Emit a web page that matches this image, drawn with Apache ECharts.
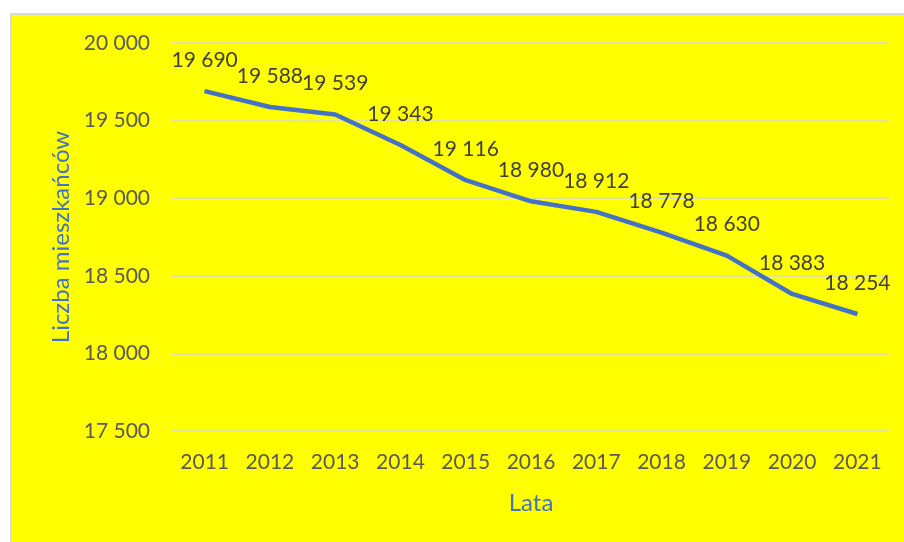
<!DOCTYPE html>
<html>
<head>
<meta charset="utf-8">
<script src="https://cdn.jsdelivr.net/npm/echarts@6/dist/echarts.min.js"></script>
<style>
  html, body { margin: 0; padding: 0; background: #ffffff; }
  #frame {
    position: absolute; left: 10px; top: 13px; right: 0; bottom: 0;
    border-top: 2px solid #d9d9d9; border-left: 2px solid #d9d9d9;
    background: #ffff00;
  }
  #chart { width: 892px; height: 527px; }
</style>
</head>
<body>
<div id="frame"><div id="chart"></div></div>
<script>
const years = ['2011', '2012', '2013', '2014', '2015', '2016', '2017', '2018', '2019', '2020', '2021'];
const residents = [19690, 19588, 19539, 19343, 19116, 18980, 18912, 18778, 18630, 18383, 18254];
const yTicks = { min: 17500, max: 20000, interval: 500 };

// thousands separated by a space, like the source
const fmt = v => String(v).replace(/\B(?=(\d{3})+(?!\d))/g, ' ');

const chart = echarts.init(document.getElementById('chart'));

const option = {
  backgroundColor: 'transparent',
  textStyle: { fontFamily: 'Lato, "Open Sans", sans-serif' },
  grid: { left: 160, top: 28, width: 718, height: 388 },
  xAxis: {
    type: 'category',
    data: years,
    boundaryGap: true,
    name: 'Lata',
    nameLocation: 'middle',
    nameGap: 60,
    nameTextStyle: { color: '#4472c4', fontSize: 24 },
    axisLine: { show: false },
    axisTick: { show: false },
    axisLabel: { color: '#595959', fontSize: 21, margin: 21 }
  },
  yAxis: {
    type: 'value',
    min: yTicks.min,
    max: yTicks.max,
    interval: yTicks.interval,
    name: 'Liczba mieszkańców',
    nameLocation: 'middle',
    nameGap: 98,
    nameTextStyle: { color: '#4472c4', fontSize: 24 },
    axisLine: { show: false },
    axisTick: { show: false },
    axisLabel: { color: '#595959', fontSize: 21, margin: 22, formatter: fmt },
    splitLine: { lineStyle: { color: '#d9d9d9', width: 1.5 } }
  },
  series: [
    {
      type: 'line',
      data: residents,
      symbol: 'circle',
      symbolSize: 1,
      itemStyle: { color: '#4472c4' },
      lineStyle: { color: '#4472c4', width: 4.5 },
      label: {
        show: true,
        position: 'top',
        distance: 20,
        color: '#404040',
        fontSize: 21,
        formatter: p => fmt(p.value)
      }
    }
  ]
};

chart.setOption(option);
</script>
</body>
</html>
